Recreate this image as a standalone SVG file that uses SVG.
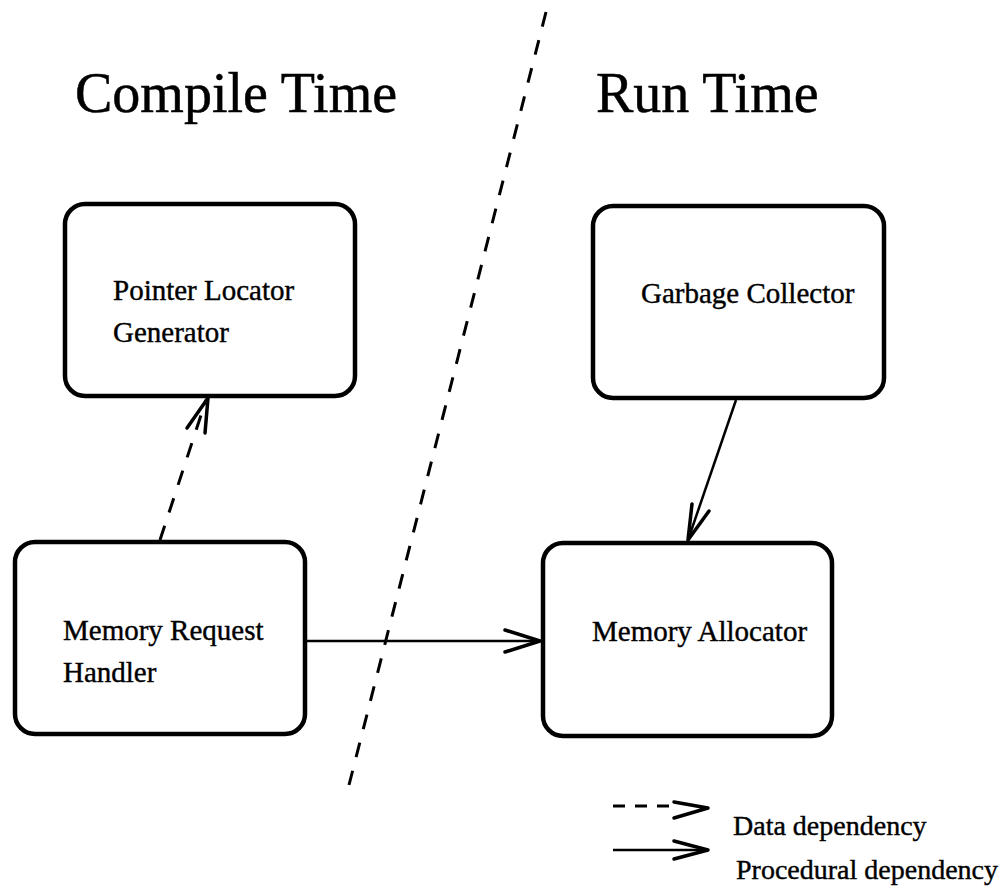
<svg xmlns="http://www.w3.org/2000/svg" width="1006" height="886" viewBox="0 0 1006 886">
  <style>
    .box { fill: #fff; stroke: #000; stroke-width: 4.5; }
    .lbl { font-family: "Liberation Serif", "Times New Roman", serif; font-size: 29px; fill: #000; stroke: #000; stroke-width: 0.4; }
    .legend { font-size: 28px; }
    .title { font-family: "Liberation Serif", "Times New Roman", serif; font-size: 56px; fill: #000; stroke: #000; stroke-width: 0.5; }
    .solid { fill: none; stroke: #000; stroke-width: 2.5; }
    .dash { fill: none; stroke: #000; stroke-width: 3; stroke-dasharray: 15 14; }
    .head { fill: none; stroke: #000; stroke-width: 3.5; stroke-linecap: round; stroke-linejoin: round; }
  </style>
  <rect width="1006" height="886" fill="#fff"/>

  <!-- phase titles -->
  <text class="title" x="75" y="112">Compile Time</text>
  <text class="title" x="596" y="112">Run Time</text>

  <!-- boundary between compile time and run time -->
  <line class="dash" x1="546" y1="12" x2="349" y2="785"/>

  <g id="pointer-locator-generator">
    <rect class="box" x="65" y="204" width="290" height="192" rx="20"/>
    <text class="lbl" x="113" y="300">Pointer Locator</text>
    <text class="lbl" x="113" y="342">Generator</text>
  </g>

  <g id="garbage-collector">
    <rect class="box" x="593" y="206" width="291" height="192" rx="20"/>
    <text class="lbl" x="641" y="303">Garbage Collector</text>
  </g>

  <g id="memory-request-handler">
    <rect class="box" x="15" y="542" width="290" height="192" rx="20"/>
    <text class="lbl" x="63" y="640">Memory Request</text>
    <text class="lbl" x="63" y="682">Handler</text>
  </g>

  <g id="memory-allocator">
    <rect class="box" x="543" y="543" width="289" height="193" rx="20"/>
    <text class="lbl" x="592" y="641">Memory Allocator</text>
  </g>

  <g id="connectors">
    <!-- data dependency: request handler -> pointer locator generator -->
    <line class="dash" x1="160" y1="540" x2="206" y2="400"/>
    <polyline class="head" points="187,428 208,398 205,433"/>
    <!-- procedural dependency: garbage collector -> allocator -->
    <line class="solid" x1="736" y1="400" x2="688" y2="540"/>
    <polyline class="head" points="692,504 688,540 709,511"/>
    <!-- procedural dependency: request handler -> allocator -->
    <line class="solid" x1="305" y1="641" x2="540" y2="641"/>
    <polyline class="head" points="505,630 540,641 505,652"/>
  </g>

  <g id="legend">
    <line class="dash" x1="613" y1="806" x2="670" y2="806" style="stroke-dasharray: 12 10"/>
    <polyline class="head" points="674,802 708,808 674,818"/>
    <text class="lbl legend" x="733" y="835">Data dependency</text>
    <line class="solid" x1="613" y1="850" x2="706" y2="850"/>
    <polyline class="head" points="674,841 708,850 674,859"/>
    <text class="lbl legend" x="736" y="879">Procedural dependency</text>
  </g>
</svg>
